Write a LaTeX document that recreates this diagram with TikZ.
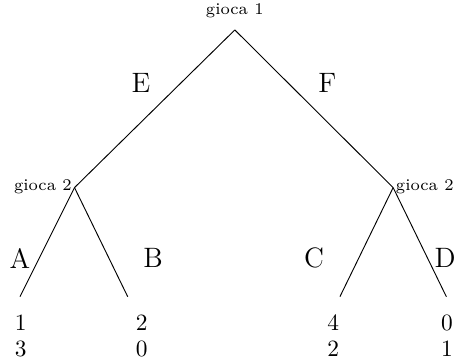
\documentclass[tikz,border=0pt]{standalone}
\begin{document}
\begin{tikzpicture}
\useasboundingbox (0,0) rectangle (6.90,5.47);
\tikzset{pl/.style={font=\scriptsize,inner sep=1pt},
  mv/.style={font=\large}}
\coordinate (r) at (3.53,5.02);
\coordinate (l) at (1.12,2.65);
\coordinate (q) at (5.91,2.65);
\coordinate (la) at (0.30,1.01);
\coordinate (lb) at (1.92,1.01);
\coordinate (qc) at (5.11,1.01);
\coordinate (qd) at (6.71,1.01);
\draw (r) -- (l);
\draw (r) -- (q);
\draw (l) -- (la);
\draw (l) -- (lb);
\draw (q) -- (qc);
\draw (q) -- (qd);
\node[pl,anchor=south] (g1) at ([yshift=4pt]r) {gioca 1};
\node[pl,anchor=east] (g2l) at ([yshift=0.5pt]l) {gioca 2};
\node[pl,anchor=west] (g2r) at ([yshift=0.5pt]q) {gioca 2};
\node[mv] (e) at (2.12,4.23) {E};
\node[mv] (f) at (4.92,4.23) {F};
\node[mv] (a) at (0.30,1.59) {A};
\node[mv] (b) at (2.30,1.59) {B};
\node[mv] (c) at (4.72,1.59) {C};
\node[mv] (d) at (6.69,1.59) {D};
% payoffs
\node (u1) at (0.31,0.62) {1};
\node (v1) at (0.31,0.23) {3};
\node (u2) at (2.13,0.62) {2};
\node (v2) at (2.13,0.23) {0};
\node (u3) at (5.01,0.62) {4};
\node (v3) at (5.01,0.23) {2};
\node (u4) at (6.72,0.62) {0};
\node (v4) at (6.72,0.23) {1};
\end{tikzpicture}
\end{document}
